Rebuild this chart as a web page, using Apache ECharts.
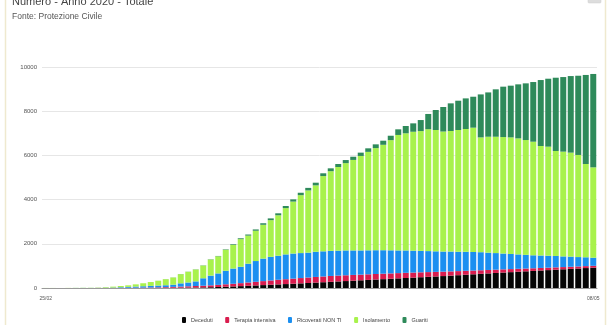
<!DOCTYPE html>
<html>
<head>
<meta charset="utf-8">
<title>Numero - Anno 2020 - Totale</title>
<script src="https://cdn.jsdelivr.net/npm/echarts@6/dist/echarts.min.js"></script>
<style>
  html, body { margin: 0; padding: 0; background: #ffffff; }
  #chart { width: 612px; height: 325px; }
</style>
</head>
<body>
<div id="chart"></div>
<script>
// Giorni (gg/mm) dal 25 febbraio all'8 maggio 2020
const giorni = [
  '25/02','26/02','27/02','28/02','29/02',
  '01/03','02/03','03/03','04/03','05/03','06/03','07/03','08/03','09/03','10/03',
  '11/03','12/03','13/03','14/03','15/03','16/03','17/03','18/03','19/03','20/03',
  '21/03','22/03','23/03','24/03','25/03','26/03','27/03','28/03','29/03','30/03','31/03',
  '01/04','02/04','03/04','04/04','05/04','06/04','07/04','08/04','09/04','10/04',
  '11/04','12/04','13/04','14/04','15/04','16/04','17/04','18/04','19/04','20/04',
  '21/04','22/04','23/04','24/04','25/04','26/04','27/04','28/04','29/04','30/04',
  '01/05','02/05','03/05','04/05','05/05','06/05','07/05','08/05'
];

const deceduti = [0,0,0,0,0,0,0,0,0,0,0,1,2,3,4,5,7,10,13,17,22,28,36,46,58,71,85,100,116,132,148,163,178,194,210,227,245,262,280,297,314,332,349,366,384,401,418,436,453,470,488,505,522,540,560,580,600,620,640,660,680,700,718,737,755,773,792,810,828,847,865,883,902,920];

const terapiaIntensiva = [0,0,0,0,0,0,1,2,3,4,6,9,12,16,20,25,32,40,50,60,68,75,85,95,110,120,135,150,165,180,195,210,220,230,240,248,255,260,265,265,262,260,257,254,250,246,242,238,234,228,222,215,208,200,192,185,178,170,163,156,150,144,138,132,126,120,115,110,105,100,96,92,88,85];

const ricoverati = [0,0,1,1,2,3,3,4,9,16,29,40,51,61,71,80,86,100,147,173,210,337,439,519,612,689,740,850,939,1018,1067,1087,1122,1136,1130,1125,1140,1138,1135,1128,1124,1108,1094,1085,1076,1063,1045,1026,1013,992,970,950,930,910,898,875,862,840,817,784,750,716,684,651,619,587,563,540,517,483,459,425,400,365];

const isolamento = [2,2,1,4,6,8,9,13,26,41,55,70,100,135,175,218,272,326,415,484,537,575,728,775,950,1070,1250,1270,1370,1530,1660,1830,2095,2350,2620,2815,3005,3405,3605,3785,3950,4095,4275,4455,4620,4770,4985,5225,5300,5380,5420,5515,5490,5430,5455,5510,5555,5625,5195,5245,5265,5270,5275,5250,5195,5140,4955,4935,4750,4740,4705,4620,4220,4090];

const guariti = [0,0,0,0,0,0,0,0,0,0,0,0,0,0,0,2,3,4,5,6,8,10,12,15,20,30,40,50,60,70,80,90,95,100,110,115,120,125,130,135,140,145,150,160,170,185,200,255,330,380,500,690,905,1110,1250,1325,1385,1400,1945,2005,2145,2280,2340,2445,2565,2700,2985,3075,3315,3375,3465,3585,4030,4225];

const yTicks = { min: 0, max: 10000, step: 2000 };

const FONT = "'Liberation Sans', Arial, sans-serif";

const serie = [
  { name: 'Deceduti',          data: deceduti,         color: '#050505' },
  { name: 'Terapia intensiva', data: terapiaIntensiva, color: '#d91c4e' },
  { name: 'Ricoverati NON TI', data: ricoverati,       color: '#1b8ff0' },
  { name: 'Isolamento',        data: isolamento,       color: '#a8f24c' },
  { name: 'Guariti',           data: guariti,          color: '#2e8a5a' }
];

const chart = echarts.init(document.getElementById('chart'), null, { renderer: 'canvas' });

chart.setOption({
  animation: false,
  backgroundColor: '#ffffff',
  title: [
    {
      text: 'Numero - Anno 2020 - Totale',
      left: 12, top: -4, padding: 0,
      textStyle: { fontFamily: FONT, fontSize: 11, fontWeight: 'normal', color: '#444' }
    },
    {
      text: 'Fonte: Protezione Civile',
      left: 12, top: 12.5, padding: 0,
      textStyle: { fontFamily: FONT, fontSize: 8.5, fontWeight: 'normal', color: '#555' }
    }
  ],
  graphic: [
    {
      type: 'rect', silent: true, z: -1,
      shape: { x: 5.5, y: -2, width: 600, height: 330 },
      style: { fill: 'none', stroke: '#efe9cf', lineWidth: 1.5 }
    },
    {
      type: 'rect', silent: true,
      shape: { x: 588, y: -2, width: 13, height: 5, r: 1 },
      style: { fill: '#dddddd', stroke: '#cccccc', lineWidth: 0.5 }
    }
  ],
  legend: {
    left: 182, top: 317,
    itemWidth: 4, itemHeight: 6, itemGap: 12.5,
    icon: 'roundRect',
    padding: 0,
    textStyle: { fontFamily: FONT, fontSize: 5.5, color: '#444' },
    data: serie.map(s => s.name)
  },
  grid: { left: 42, right: 15, top: 67, bottom: 37, containLabel: false },
  xAxis: {
    type: 'category',
    data: giorni,
    axisLine: { show: true, lineStyle: { color: '#9a9a9a', width: 1 } },
    axisTick: { show: false },
    axisLabel: {
      interval: (idx) => idx === 0 || idx === giorni.length - 1,
      margin: 8,
      fontFamily: FONT, fontSize: 5, color: '#555'
    }
  },
  yAxis: {
    type: 'value',
    min: yTicks.min, max: yTicks.max, interval: yTicks.step,
    axisLine: { show: false },
    axisTick: { show: false },
    splitLine: { lineStyle: { color: '#e6e6e6', width: 1 } },
    axisLabel: {
      margin: 5, fontFamily: FONT, fontSize: 6, color: '#555',
      formatter: (v) => String(v)
    }
  },
  series: serie.map(s => ({
    name: s.name,
    type: 'bar',
    stack: 'totale',
    data: s.data,
    barCategoryGap: '20%',
    itemStyle: { color: s.color },
    emphasis: { disabled: true }
  }))
});
</script>
</body>
</html>
